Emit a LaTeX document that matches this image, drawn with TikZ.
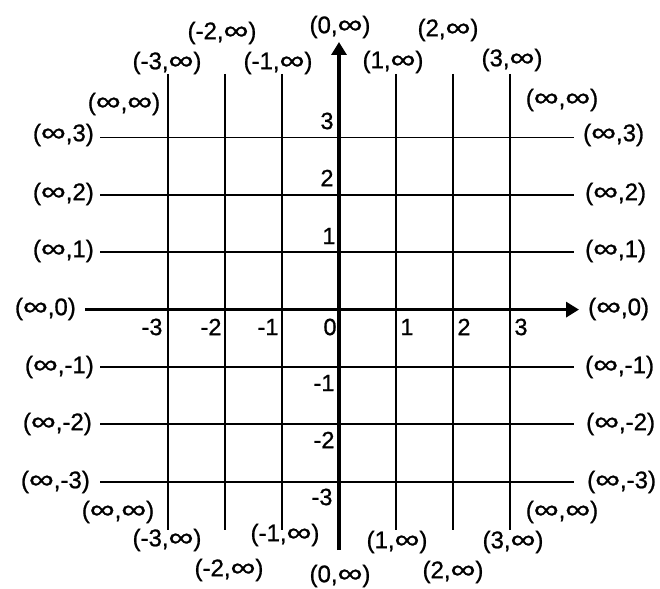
\documentclass[tikz,border=0pt]{standalone}
\usepackage{fontspec}
\usepackage{graphicx}
\setmainfont{Liberation Sans}
\newfontface\labfont{Liberation Sans}[FakeBold=0.9]
\usetikzlibrary{arrows.meta}
\newcommand\infsym{\scalebox{1.45}[1.1]{∞}}
\begin{document}
\begin{tikzpicture}[x=1pt,y=-1pt,
  lab/.style={font=\labfont\fontsize{24}{26}\selectfont, inner sep=0pt},
  ticklab/.style={font=\labfont\fontsize{23.5}{25}\selectfont, inner sep=0pt},
  gridline/.style={line width=1.9pt, black},
  axisline/.style={line width=3.2pt, -{Triangle[length=13pt,width=15pt]}}]
\useasboundingbox (0,0) rectangle (660,588);

% grid line end points
\foreach \i/\x in {m3/168,m2/225,m1/282,p1/396,p2/453,p3/510}{
  \coordinate (vt\i) at (\x,74);
  \coordinate (vb\i) at (\x,530);
}
\foreach \i/\y in {p3/137.5,p2/194.9,p1/252.3,m1/367,m2/424.4,m3/481.8}{
  \coordinate (hl\i) at (100,\y);
  \coordinate (hr\i) at (574,\y);
}
\coordinate (xl) at (85,309.6);
\coordinate (xr) at (579,309.6);
\coordinate (yb) at (339,550);
\coordinate (yt) at (339,42);

\foreach \i in {m3,m2,m1,p1,p2,p3}{
  \draw[gridline] (vt\i) -- (vb\i);
  \draw[gridline] (hl\i) -- (hr\i);
}
\draw[axisline] (xl) -- (xr);
\draw[axisline] (yb) -- (yt);

% top labels
\node[lab] (tm3) at (167,63) {(-3,\infsym)};
\node[lab] (tm2) at (222,33) {(-2,\infsym)};
\node[lab] (tm1) at (278,63) {(-1,\infsym)};
\node[lab] (t0)  at (340,27) {(0,\infsym)};
\node[lab] (tp1) at (393,62) {(1,\infsym)};
\node[lab] (tp2) at (448,30) {(2,\infsym)};
\node[lab] (tp3) at (512,60) {(3,\infsym)};
\node[lab] (tl)  at (124,104) {(\infsym,\infsym)};
\node[lab] (tr)  at (562,100) {(\infsym,\infsym)};

% bottom labels
\node[lab] (bm3) at (167,540) {(-3,\infsym)};
\node[lab] (bm2) at (229,570) {(-2,\infsym)};
\node[lab] (bm1) at (285,535) {(-1,\infsym)};
\node[lab] (b0)  at (340,576) {(0,\infsym)};
\node[lab] (bp1) at (397,542) {(1,\infsym)};
\node[lab] (bp2) at (453,572) {(2,\infsym)};
\node[lab] (bp3) at (513,542) {(3,\infsym)};
\node[lab] (bl)  at (118,512) {(\infsym,\infsym)};
\node[lab] (br)  at (562,512) {(\infsym,\infsym)};

% left labels
\node[lab,anchor=east] (lp3) at (94,135) {(\infsym,3)};
\node[lab,anchor=east] (lp2) at (94,194) {(\infsym,2)};
\node[lab,anchor=east] (lp1) at (94,251) {(\infsym,1)};
\node[lab,anchor=east] (l0)  at (76,309) {(\infsym,0)};
\node[lab,anchor=east] (lm1) at (94,367) {(\infsym,-1)};
\node[lab,anchor=east] (lm2) at (92,424) {(\infsym,-2)};
\node[lab,anchor=east] (lm3) at (90,482) {(\infsym,-3)};

% right labels
\node[lab,anchor=west] (rp3) at (583,135) {(\infsym,3)};
\node[lab,anchor=west] (rp2) at (585,194) {(\infsym,2)};
\node[lab,anchor=west] (rp1) at (585,251) {(\infsym,1)};
\node[lab,anchor=west] (r0)  at (588,309) {(\infsym,0)};
\node[lab,anchor=west] (rm1) at (585,367) {(\infsym,-1)};
\node[lab,anchor=west] (rm2) at (586,424) {(\infsym,-2)};
\node[lab,anchor=west] (rm3) at (587,482) {(\infsym,-3)};

% tick labels on x axis
\node[ticklab] (xm3) at (152,327) {-3};
\node[ticklab] (xm2) at (211,327) {-2};
\node[ticklab] (xm1) at (268,327) {-1};
\node[ticklab] (x0)  at (330,327) {0};
\node[ticklab] (xp1) at (407,327) {1};
\node[ticklab] (xp2) at (464,327) {2};
\node[ticklab] (xp3) at (521,327) {3};

% tick labels on y axis
\node[ticklab] (yp3) at (327,121) {3};
\node[ticklab] (yp2) at (327,178) {2};
\node[ticklab] (yp1) at (329,236) {1};
\node[ticklab] (ym1) at (324,383) {-1};
\node[ticklab] (ym2) at (324,440) {-2};
\node[ticklab] (ym3) at (322,497) {-3};
\end{tikzpicture}
\end{document}
